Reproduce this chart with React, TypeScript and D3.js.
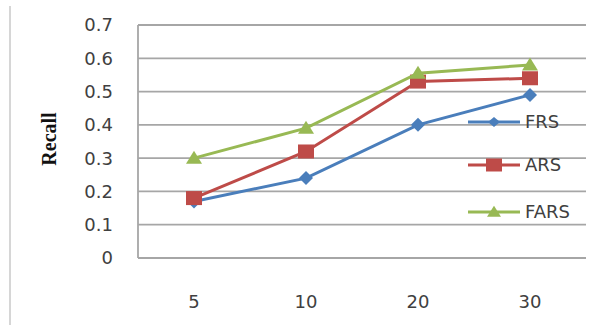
import React from "react";
import * as d3 from "d3";

const categories = ["5", "10", "20", "30"];
const seriesNames = ["FRS", "ARS", "FARS"];
const frs = [0.17, 0.24, 0.4, 0.49];
const ars = [0.18, 0.32, 0.53, 0.54];
const fars = [0.3, 0.39, 0.555, 0.58];
const yTicks = [0, 0.1, 0.2, 0.3, 0.4, 0.5, 0.6, 0.7];

const W = 594;
const H = 325;
const colors = ["#4a7ebb", "#be4b48", "#98b954"];

// marker outlines: diamond, square, triangle, sized by width/height
function markerPath(k: number, w: number, h: number): string {
  const p = d3.path();
  const hw = w / 2;
  const hh = h / 2;
  if (k === 0) {
    p.moveTo(0, -hh);
    p.lineTo(hw, 0);
    p.lineTo(0, hh);
    p.lineTo(-hw, 0);
  } else if (k === 1) {
    p.rect(-hw, -hh, w, h);
  } else {
    p.moveTo(0, -hh * 1.15);
    p.lineTo(hw, hh * 0.85);
    p.lineTo(-hw, hh * 0.85);
  }
  p.closePath();
  return p.toString();
}

const plotSizes: [number, number][] = [
  [14, 14],
  [16, 14],
  [16, 13],
];
const legendSizes: [number, number][] = [
  [12, 10],
  [16, 13],
  [14, 11],
];

export default function App() {
  const x = d3.scaleBand<string>().domain(categories).range([138, 586]);
  const y = d3.scaleLinear().domain([0, 0.7]).range([258, 25]);
  const cx = (i: number) => (x(categories[i]) ?? 0) + x.bandwidth() / 2;
  const line = d3
    .line<number>()
    .x((_, i) => cx(i))
    .y((d) => y(d));
  const series = [frs, ars, fars];
  const legendY = [122, 165, 212];
  const tickFont = "'DejaVu Sans', sans-serif";

  return (
    <svg
      width={W}
      height={H}
      style={{ position: "absolute", left: 0, top: 0, background: "#fff" }}
    >
      <rect x={0} y={0} width={W} height={H} fill="#fff" />
      <line x1={10} x2={10} y1={6} y2={H} stroke="#c8c8c8" strokeWidth={1.5} />
      {yTicks.map((t) => (
        <g key={t}>
          <line
            x1={138}
            x2={586}
            y1={y(t)}
            y2={y(t)}
            stroke="#a6a6a6"
            strokeWidth={1.8}
          />
          <text
            x={113}
            y={y(t)}
            dy="0.36em"
            textAnchor="end"
            fontFamily={tickFont}
            fontSize={18}
            fill="#404040"
          >
            {t === 0 ? "0" : t.toFixed(1)}
          </text>
        </g>
      ))}
      <line x1={138} x2={138} y1={25} y2={258} stroke="#a6a6a6" strokeWidth={1.8} />
      {categories.map((c, i) => (
        <text
          key={c}
          x={cx(i)}
          y={302}
          dy="0.36em"
          textAnchor="middle"
          fontFamily={tickFont}
          fontSize={18}
          fill="#404040"
        >
          {c}
        </text>
      ))}
      <text
        transform="translate(56,139) rotate(-90)"
        textAnchor="middle"
        fontFamily="'Liberation Serif', 'Times New Roman', serif"
        fontWeight="bold"
        fontSize={20}
        fill="#111"
      >
        Recall
      </text>
      {series.map((s, k) => (
        <g key={seriesNames[k]}>
          <path d={line(s) ?? ""} fill="none" stroke={colors[k]} strokeWidth={3} />
          {s.map((v, i) => (
            <path
              key={i}
              d={markerPath(k, plotSizes[k][0], plotSizes[k][1])}
              transform={`translate(${cx(i)},${y(v)})`}
              fill={colors[k]}
            />
          ))}
        </g>
      ))}
      {seriesNames.map((n, k) => (
        <g key={n}>
          <line
            x1={468}
            x2={520}
            y1={legendY[k]}
            y2={legendY[k]}
            stroke={colors[k]}
            strokeWidth={3}
          />
          <path
            d={markerPath(k, legendSizes[k][0], legendSizes[k][1])}
            transform={`translate(${494},${legendY[k]})`}
            fill={colors[k]}
          />
          <text
            x={525}
            y={legendY[k]}
            dy="0.36em"
            fontFamily={tickFont}
            fontSize={18}
            fill="#404040"
          >
            {n}
          </text>
        </g>
      ))}
    </svg>
  );
}
